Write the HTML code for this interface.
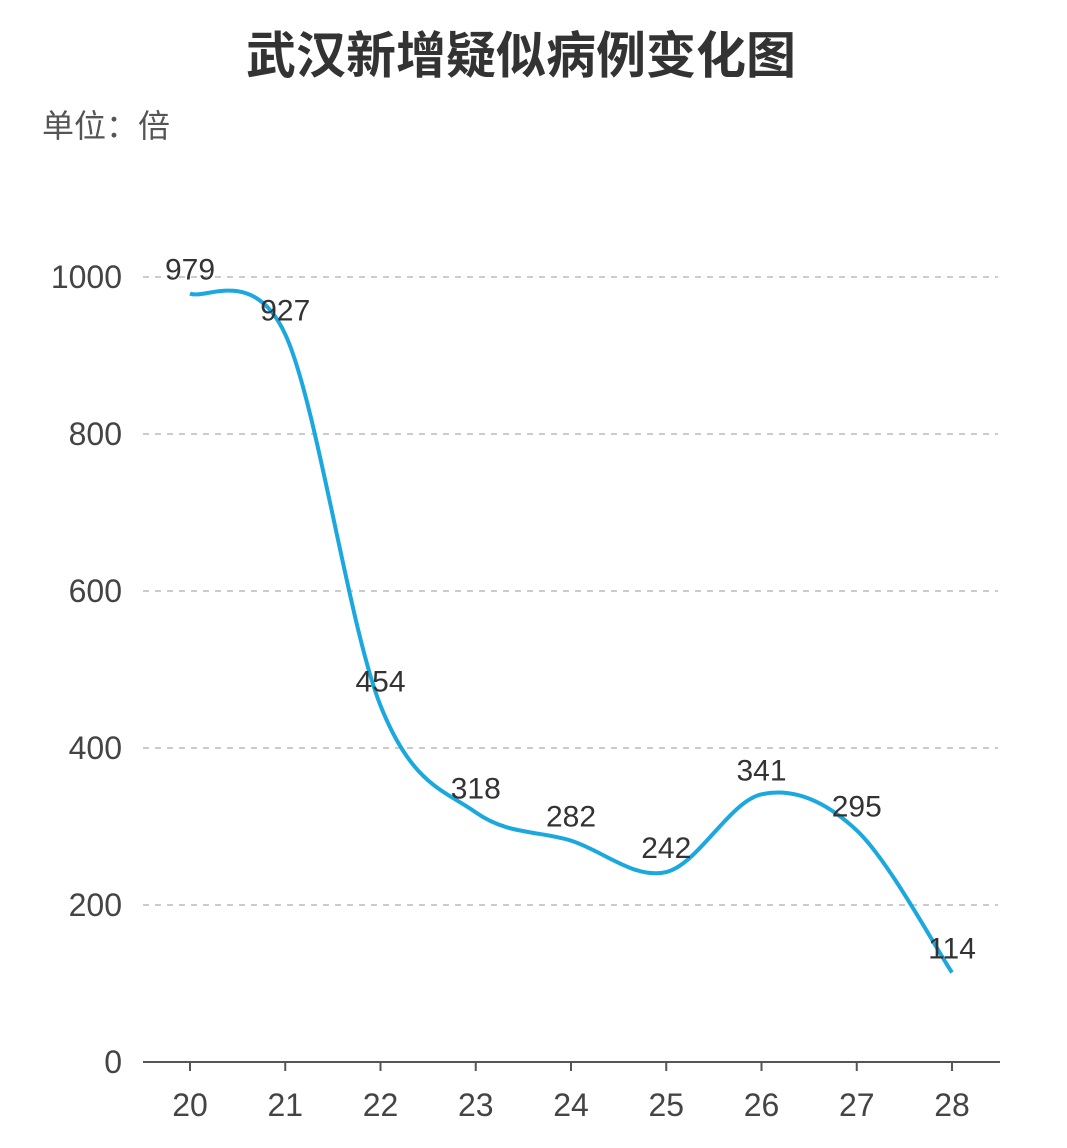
<!DOCTYPE html>
<html><head><meta charset="utf-8"><style>
html,body{margin:0;padding:0;background:#fff;width:1067px;height:1148px;overflow:hidden}
svg text{font-family:"Liberation Sans","Noto Sans CJK SC",sans-serif}
</style></head><body>
<svg id="chart" width="1067" height="1148" xmlns="http://www.w3.org/2000/svg">
<text x="521" y="73" text-anchor="middle" font-size="50" font-weight="bold" fill="#333">武汉新增疑似病例变化图</text>
<text x="42" y="137" font-size="32" fill="#555">单位：倍</text>
<g id="grid"></g><g id="axes"></g><g id="series"></g><g id="labels"></g>
</svg>
<script>
const categories=["20","21","22","23","24","25","26","27","28"];
const values=[979,927,454,318,282,242,341,295,114];
const yTicks=[0,200,400,600,800,1000];
const NS="http://www.w3.org/2000/svg";
const x0=190,xStep=95.25,yBase=1062,yScale=785/1000;
function xPos(i){return x0+i*xStep;}
function yPos(v){return yBase-v*yScale;}
function mk(tag,attrs,parent){const e=document.createElementNS(NS,tag);for(const k in attrs)e.setAttribute(k,attrs[k]);parent.appendChild(e);return e;}
const grid=document.getElementById('grid'),axes=document.getElementById('axes'),series=document.getElementById('series'),labels=document.getElementById('labels');
yTicks.forEach(t=>{
  if(t>0){const l=mk('line',{x1:143,x2:998,y1:yPos(t),y2:yPos(t),stroke:'#ccc','stroke-width':2,'stroke-dasharray':'6,6'},grid);
  
  }
  const tx=mk('text',{x:122,y:yPos(t)+11,'text-anchor':'end','font-size':32,fill:'#444'},axes);
  tx.textContent=t;
  
  
});
const ax=mk('line',{x1:143,x2:1000,y1:yBase,y2:yBase,stroke:'#555','stroke-width':2},axes);


categories.forEach((c,i)=>{
  const tk=mk('line',{x1:xPos(i),x2:xPos(i),y1:yBase,y2:yBase+9,stroke:'#555','stroke-width':2},axes);
  
  
  const t=mk('text',{x:xPos(i),y:1116,'text-anchor':'middle','font-size':32,fill:'#444'},axes);
  t.textContent=c;
  
  
});
const pts=values.map((v,i)=>[xPos(i),yPos(v)]);
let d='M'+pts[0][0]+','+pts[0][1];
for(let i=0;i<pts.length-1;i++){
  const p0=pts[Math.max(i-1,0)],p1=pts[i],p2=pts[i+1],p3=pts[Math.min(i+2,pts.length-1)];
  const c1=[p1[0]+(p2[0]-p0[0])/6,p1[1]+(p2[1]-p0[1])/6];
  const c2=[p2[0]-(p3[0]-p1[0])/6,p2[1]-(p3[1]-p1[1])/6];
  d+=` C${c1[0]},${c1[1]} ${c2[0]},${c2[1]} ${p2[0]},${p2[1]}`;
}
const path=mk('path',{d:d,fill:'none',stroke:'#1ba8df','stroke-width':4},series);


values.forEach((v,i)=>{
  const t=mk('text',{x:xPos(i),y:yPos(v)-14,'text-anchor':'middle','font-size':30,fill:'#333'},labels);
  t.textContent=v;
  
  
});
</script>
</body></html>
